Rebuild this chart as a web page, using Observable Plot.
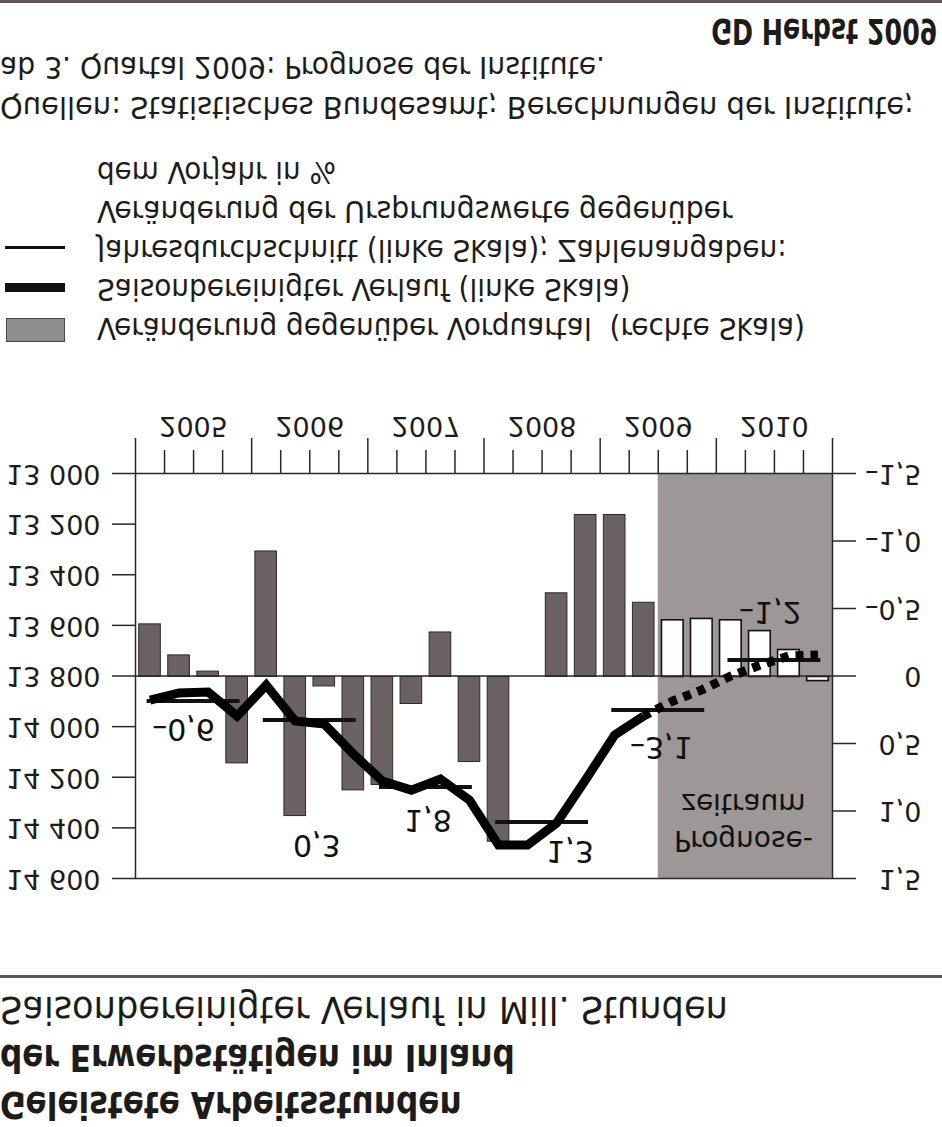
<!DOCTYPE html>
<html lang="de"><head><meta charset="utf-8">
<script src="https://cdn.jsdelivr.net/npm/d3@7"></script>
<script src="https://cdn.jsdelivr.net/npm/@observablehq/plot@0.6"></script>
<style>
html,body{margin:0;padding:0;background:#fff;}
body{width:942px;height:1127px;overflow:hidden;}
#page{position:relative;width:942px;height:1127px;transform:scaleY(-1);transform-origin:50% 50%;font-family:"DejaVu Sans",sans-serif;color:#1e1b1b;}
.t{position:absolute;white-space:nowrap;line-height:1;transform-origin:0 50%;}
.b{font-weight:bold;}
#chart{position:absolute;left:0;top:200px;}
.rule{position:absolute;left:0;width:942px;background:#5f5959;}
.sw{position:absolute;}
</style></head><body>
<div id="page">
  <div class="t b" data-w="462" style="left:0;top:4px;font-size:37px">Geleistete Arbeitsstunden</div>
  <div class="t b" data-w="515" style="left:0;top:51px;font-size:37px">der Erwerbstätigen im Inland</div>
  <div class="t" data-w="728" style="left:0;top:99px;font-size:37px">Saisonbereinigter Verlauf in Mill. Stunden</div>
  <div class="rule" style="top:149px;height:2.5px"></div>
  <div id="chart"></div>

  <div class="sw" style="left:6px;top:785px;width:57px;height:22px;background:#8e8e8e;border:1px solid #4a4646"></div>
  <div class="sw" style="left:5px;top:835px;width:60px;height:9px;background:#111"></div>
  <div class="sw" style="left:5px;top:878px;width:60px;height:3px;background:#111"></div>
  <div class="t" data-w="708" style="left:97px;top:783px;font-size:31px">Veränderung gegenüber Vorquartal&nbsp; (rechte Skala)</div>
  <div class="t" data-w="533" style="left:97px;top:822px;font-size:31px">Saisonbereinigter Verlauf (linke Skala)</div>
  <div class="t" data-w="690" style="left:97px;top:861px;font-size:31px">Jahresdurchschnitt (linke Skala); Zahlenangaben:</div>
  <div class="t" data-w="636" style="left:97px;top:900px;font-size:31px">Veränderung der Ursprungswerte gegenüber</div>
  <div class="t" data-w="239" style="left:97px;top:939px;font-size:31px">dem Vorjahr in %</div>

  <div class="t" data-w="914" style="left:0;top:1004px;font-size:31px">Quellen: Statistisches Bundesamt; Berechnungen der Institute;</div>
  <div class="t" data-w="605" style="left:0;top:1044px;font-size:31px">ab 3. Quartal 2009: Prognose der Institute.</div>
  <div class="t b" data-w="226" data-right="937" style="top:1079px;font-size:35px">GD Herbst 2009</div>
  <div class="rule" style="top:1124px;height:3px"></div>
</div>
<script>
// ---- data ----
const years = [2005, 2006, 2007, 2008, 2009, 2010];
const quarters = [1, 2, 3, 4];
// Veränderung gegenüber Vorquartal in % (rechte Skala)
const changeVsPrevQuarter = [
  -0.39, -0.16, -0.04, 0.64,
  -0.93, 1.03, 0.07, 0.84,
  0.80, 0.20, -0.33, 0.63,
  1.22, 0.00, -0.62, -1.20,
  -1.20, -0.55, -0.42, -0.43,
  -0.42, -0.34, -0.20, 0.03
];
// Saisonbereinigter Verlauf in Mill. Stunden (linke Skala)
const seasonallyAdjusted = [
  13895, 13867, 13863, 13958,
  13836, 13978, 13990, 14108,
  14215, 14251, 14207, 14290,
  14468, 14468, 14381, 14210,
  14033, 13958, 13899, 13855,
  13800, 13757, 13721, 13717
];
// Jahresdurchschnitt (linke Skala)
const annualAverage = [13899, 13974, 14239, 14377, 13934, 13737];
// Veränderung der Ursprungswerte gegenüber dem Vorjahr in %
const annualChange = [-0.6, 0.3, 1.8, 1.3, -3.1, -1.2];
const forecastStart = {year: 2009, quarter: 3};
const leftTicks = [13000, 13200, 13400, 13600, 13800, 14000, 14200, 14400, 14600];
const rightTicks = [-1.5, -1.0, -0.5, 0, 0.5, 1.0, 1.5];
const forecastLabel = "Prognose-\nzeitraum";

// ---- helpers ----
const de = d3.formatLocale({decimal: ",", thousands: " ", grouping: [3], currency: ["", " €"], minus: "–"});
const fmtH = de.format(",");
const fmt1 = de.format(".1f");
const fmtPct = p => Math.abs(p) < 1e-9 ? "0" : fmt1(p);
const yMin = d3.min(leftTicks), yMax = d3.max(leftTicks);
const pMin = d3.min(rightTicks), pMax = d3.max(rightTicks);
const toH = p => yMin + (p - pMin) * (yMax - yMin) / (pMax - pMin);
const toP = h => pMin + (h - yMin) * (pMax - pMin) / (yMax - yMin);
const base = toH(0);
const xMin = years[0], xMax = years[years.length - 1] + 1;
const fStart = forecastStart.year + (forecastStart.quarter - 1) / 4;

const qRows = [];
years.forEach((y, i) => quarters.forEach((q, j) => {
  const k = i * quarters.length + j;
  const t = y + j / 4;
  qRows.push({year: y, q, t, pct: changeVsPrevQuarter[k], hours: seasonallyAdjusted[k], forecast: t >= fStart - 1e-9});
}));
const lastActual = qRows.filter(d => !d.forecast).length - 1;
const solidRows = qRows.slice(0, lastActual + 1);
const dotRows = qRows.slice(lastActual);
const annRows = years.map((y, i) => ({year: y, avg: annualAverage[i], chg: annualChange[i]}));

// label placement relative to the annual line (layout only)
const labDx = [-10, 7, 2, 28, 3, -4];
const labDy = [-28, -125, -32, -29, -37, 48];

const chart = Plot.plot({
  width: 942, height: 520,
  marginLeft: 135, marginRight: 110, marginTop: 48, marginBottom: 67,
  style: {fontFamily: "DejaVu Sans, sans-serif", fontSize: "27px", color: "#1e1b1b", background: "transparent", overflow: "visible"},
  x: {domain: [xMin, xMax], label: null},
  y: {domain: [yMin, yMax], label: null},
  marks: [
    Plot.rect([fStart], {x1: d => d, x2: xMax, y1: yMin, y2: yMax, fill: "#9d9797"}),
    Plot.rect(qRows.filter(d => !d.forecast), {x1: "t", x2: d => d.t + 0.25, y1: base, y2: d => toH(d.pct), insetLeft: 3.7, insetRight: 3.7, fill: "#6a6262", stroke: "#2e2a2a", strokeWidth: 1}),
    Plot.rect(qRows.filter(d => d.forecast), {x1: "t", x2: d => d.t + 0.25, y1: base, y2: d => toH(d.pct), insetLeft: 3.7, insetRight: 3.7, fill: "#fff", stroke: "#111", strokeWidth: 1.6}),
    Plot.ruleY([base], {stroke: "#2b2727", strokeWidth: 1.5}),
    Plot.ruleY(annRows, {y: "avg", x1: d => d.year + 0.1, x2: d => d.year + 0.9, stroke: "#111", strokeWidth: 4}),
    Plot.line(solidRows, {x: d => d.t + 0.125, y: "hours", stroke: "#000", strokeWidth: 9, strokeLinejoin: "miter", strokeMiterlimit: 3, strokeLinecap: "butt"}),
    Plot.line(dotRows, {x: d => d.t + 0.125, y: "hours", stroke: "#000", strokeWidth: 9, strokeDasharray: "8,7", strokeDashoffset: -14, strokeLinejoin: "miter", strokeLinecap: "butt"}),
    ...annRows.map((d, i) => Plot.text([d], {x: r => r.year + 0.5, y: "avg", text: r => fmt1(r.chg), dx: labDx[i], dy: labDy[i], fontSize: 30, fill: "#111"})),
    Plot.text([forecastLabel], {x: () => (fStart + xMax) / 2, frameAnchor: "top", text: d => d, lineAnchor: "top", dy: 21, dx: -2, lineHeight: 1.33, fontSize: 28, fill: "#111"}),
    Plot.frame({stroke: "#2b2727", strokeWidth: 1.5}),
    Plot.axisY({anchor: "left", ticks: leftTicks, tickSize: 23, tickPadding: 12, tickFormat: fmtH, fontSize: 27, stroke: "#2b2727", strokeWidth: 1.5, label: null}),
    Plot.axisY({anchor: "right", ticks: rightTicks.map(toH), tickSize: 23, tickPadding: 66, textAnchor: "end", tickFormat: h => fmtPct(toP(h)), fontSize: 27, stroke: "#2b2727", strokeWidth: 1.5, label: null}),
    Plot.axisX({ticks: d3.range(xMin, xMax + 1), tickSize: 36, tickFormat: () => "", stroke: "#2b2727", strokeWidth: 1.5, label: null}),
    Plot.axisX({ticks: years.flatMap(y => [0.25, 0.5, 0.75].map(f => y + f)), tickSize: 24, tickFormat: () => "", stroke: "#2b2727", strokeWidth: 1.5, label: null}),
    Plot.axisX({ticks: years.map(y => y + 0.5), tickSize: 0, tickPadding: 37, tickFormat: d => String(Math.floor(d)), fontSize: 27, label: null})
  ]
});
document.getElementById("chart").appendChild(chart);

// fit text lines to the reference widths
function fit() {
  document.querySelectorAll(".t[data-w]").forEach(el => {
    el.style.transform = "";
    const w = el.offsetWidth, target = +el.dataset.w;
    const s = target / w;
    if (el.dataset.right) {
      el.style.left = (+el.dataset.right - w) + "px";
      el.style.transformOrigin = "100% 50%";
    }
    el.style.transform = `scaleX(${s})`;
  });
}
fit();
if (document.fonts && document.fonts.ready) document.fonts.ready.then(fit);
</script>
</body></html>
